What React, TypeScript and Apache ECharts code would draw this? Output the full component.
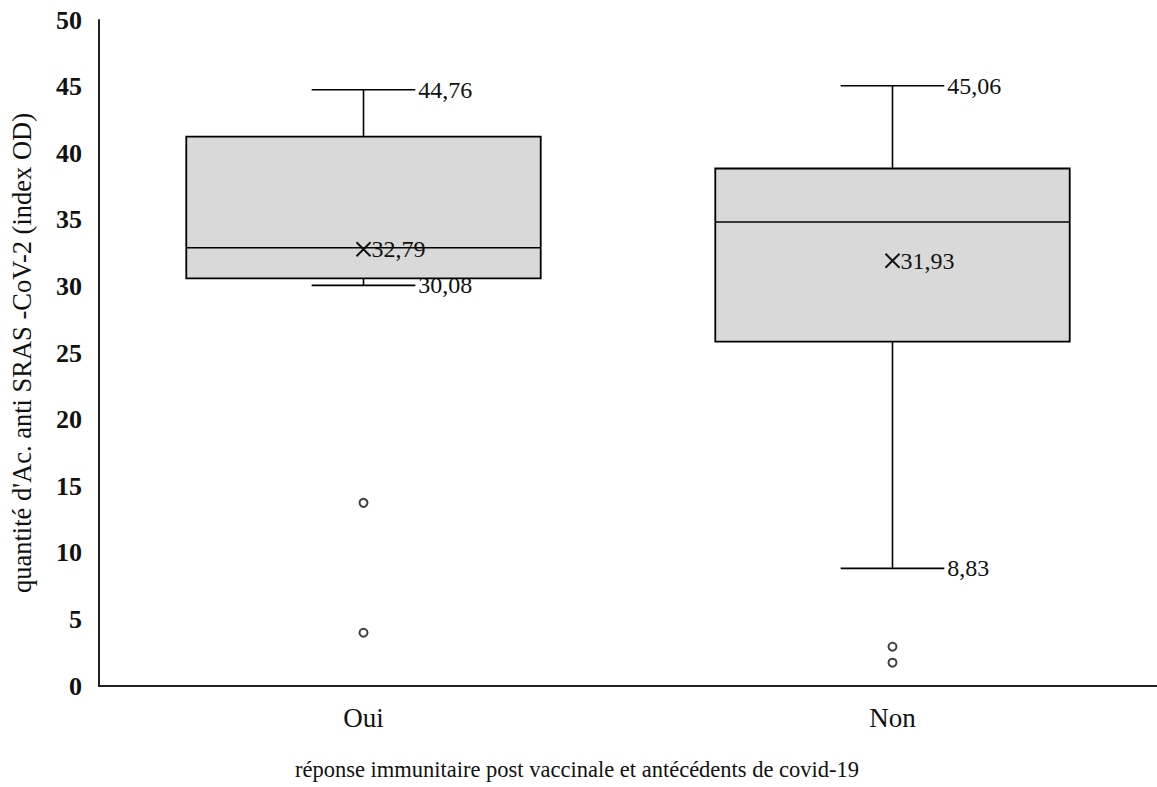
import React, { useEffect, useRef } from "react";
import * as echarts from "echarts";

const categories = ["Oui", "Non"];
const lowWhisker = [30.08, 8.83];
const q1 = [30.6, 25.85];
const median = [32.9, 34.83];
const q3 = [41.25, 38.85];
const highWhisker = [44.76, 45.06];
const means = [32.79, 31.93];
const outlierCategory = [0, 0, 1, 1];
const outlierValues = [13.75, 4.0, 2.95, 1.75];
const yTicks = { min: 0, max: 50, interval: 5 };

const FONT = "'Liberation Serif', 'Times New Roman', serif";
const fmt = (v: number) => v.toFixed(2).replace(".", ",");

export default function App() {
  const ref = useRef<HTMLDivElement>(null);
  useEffect(() => {
    if (!ref.current) return;
    const chart = echarts.init(ref.current, null, { renderer: "svg" });
    const boxData = categories.map((_, i) => [
      i,
      lowWhisker[i],
      q1[i],
      median[i],
      q3[i],
      highWhisker[i],
      means[i],
    ]);
    const outlierData = outlierCategory.map((c, i) => [c, outlierValues[i]]);

    const renderItem = (params: any, api: any) => {
      const i = api.value(0);
      const lo = api.value(1);
      const a = api.value(2);
      const m = api.value(3);
      const b = api.value(4);
      const hi = api.value(5);
      const mean = api.value(6);
      const band = api.size([1, 0])[0];
      const boxW = band * 0.67;
      const capW = band * 0.196;
      const [cx, yLo] = api.coord([i, lo]);
      const yA = api.coord([i, a])[1];
      const yM = api.coord([i, m])[1];
      const yB = api.coord([i, b])[1];
      const yHi = api.coord([i, hi])[1];
      const yMean = api.coord([i, mean])[1];
      const lineStyle = { stroke: "#000", lineWidth: 1.6 };
      const textStyle = (text: string, x: number, y: number) => ({
        text,
        x,
        y,
        fill: "#111",
        fontSize: 24,
        fontFamily: FONT,
        align: "left",
        verticalAlign: "middle",
        textAlign: "left",
        textVerticalAlign: "middle",
      });
      const ms = 7;
      return {
        type: "group",
        children: [
          { type: "text", style: textStyle(fmt(hi), cx + capW / 2 + 3, yHi) },
          { type: "text", style: textStyle(fmt(lo), cx + capW / 2 + 3, yLo) },
          { type: "line", shape: { x1: cx, y1: yHi, x2: cx, y2: yB }, style: lineStyle },
          { type: "line", shape: { x1: cx, y1: yA, x2: cx, y2: yLo }, style: lineStyle },
          { type: "line", shape: { x1: cx - capW / 2, y1: yHi, x2: cx + capW / 2, y2: yHi }, style: lineStyle },
          { type: "line", shape: { x1: cx - capW / 2, y1: yLo, x2: cx + capW / 2, y2: yLo }, style: lineStyle },
          {
            type: "rect",
            shape: { x: cx - boxW / 2, y: yB, width: boxW, height: yA - yB },
            style: { fill: "#d9d9d9", stroke: "#000", lineWidth: 1.8 },
          },
          { type: "line", shape: { x1: cx - boxW / 2, y1: yM, x2: cx + boxW / 2, y2: yM }, style: lineStyle },
          { type: "line", shape: { x1: cx - ms, y1: yMean - ms, x2: cx + ms, y2: yMean + ms }, style: { stroke: "#111", lineWidth: 2 } },
          { type: "line", shape: { x1: cx - ms, y1: yMean + ms, x2: cx + ms, y2: yMean - ms }, style: { stroke: "#111", lineWidth: 2 } },
          { type: "text", style: textStyle(fmt(mean), cx + ms + 1, yMean) },
        ],
      };
    };

    chart.setOption({
      animation: false,
      grid: { left: 99, right: -4, top: 20, bottom: 101 },
      xAxis: {
        type: "category",
        data: categories,
        axisLine: { lineStyle: { color: "#222", width: 2 } },
        axisTick: { show: false },
        axisLabel: { color: "#111", fontSize: 27, fontFamily: FONT, margin: 18 },
        name: "réponse immunitaire post vaccinale et antécédents de covid-19",
        nameLocation: "middle",
        nameGap: 72,
        nameTextStyle: { color: "#111", fontSize: 22.5, fontFamily: FONT, padding: [0, 102, 0, 0] },
      },
      yAxis: {
        type: "value",
        min: yTicks.min,
        max: yTicks.max,
        interval: yTicks.interval,
        axisLine: { show: true, lineStyle: { color: "#222", width: 2 } },
        axisTick: { show: false },
        splitLine: { show: false },
        axisLabel: { color: "#111", fontSize: 26, fontWeight: "bold", fontFamily: FONT, margin: 17 },
        name: "quantité d'Ac. anti SRAS -CoV-2 (index OD)",
        nameLocation: "middle",
        nameGap: 64,
        nameTextStyle: { color: "#111", fontSize: 26.5, fontFamily: FONT },
      },
      series: [
        {
          type: "custom",
          renderItem,
          data: boxData,
          encode: { x: 0, y: [1, 2, 3, 4, 5] },
          z: 2,
        },
        {
          type: "scatter",
          data: outlierData,
          symbol: "circle",
          symbolSize: 8,
          itemStyle: { color: "#fff", borderColor: "#111", borderWidth: 2 },
          z: 3,
        },
      ],
    });
    return () => chart.dispose();
  }, []);
  return <div ref={ref} style={{ width: 1157, height: 787, position: "absolute", left: 0, top: 0 }} />;
}
